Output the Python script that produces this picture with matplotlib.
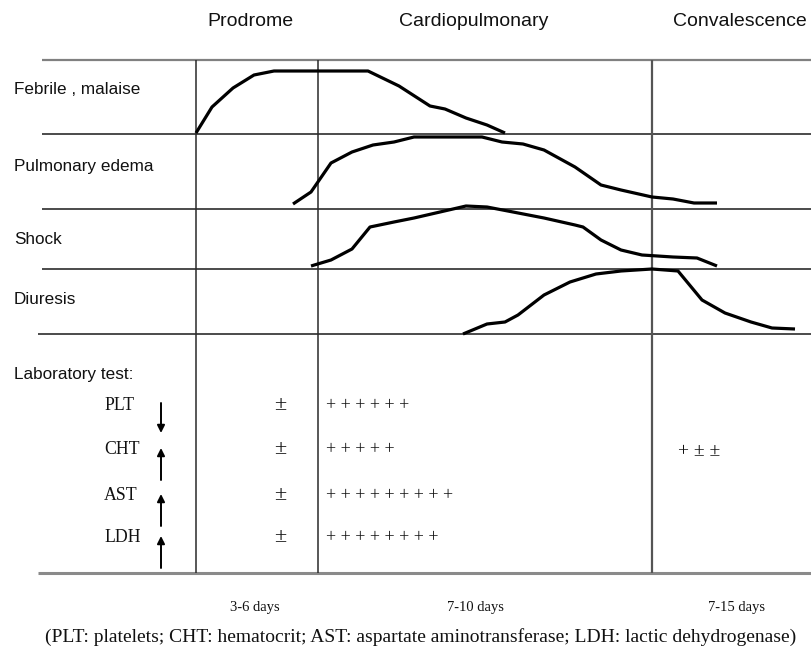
import matplotlib
matplotlib.use("Agg")
import matplotlib.pyplot as plt

# ---- data (diagram coordinates, pixel-like units, y downward) ----
phases = ["Prodrome", "Cardiopulmonary", "Convalescence"]
phase_x = [250, 474, 740]
durations = ["3-6 days", "7-10 days", "7-15 days"]
duration_x = [255, 475, 737]

rows = ["Febrile , malaise", "Pulmonary edema", "Shock", "Diuresis", "Laboratory test:"]
row_y = [90, 166, 240, 299, 375]

febrile_x = [196, 212, 233, 254, 274, 368, 399, 430, 445, 466, 487, 505]
febrile_y = [133, 107, 88, 75, 71, 71, 86, 106, 109, 118, 125, 133]

edema_x = [293, 311, 331, 352, 373, 394, 414, 482, 502, 523, 544, 575, 601, 621, 652, 673, 694, 717]
edema_y = [204, 192, 163, 152, 145, 142, 137, 137, 142, 144, 150, 167, 185, 190, 197, 199, 203, 203]

shock_x = [311, 331, 352, 370, 394, 414, 440, 466, 487, 513, 544, 575, 583, 601, 621, 642, 673, 697, 717]
shock_y = [266, 260, 249, 227, 222, 218, 212, 206, 207, 212, 218, 225, 227, 240, 250, 255, 257, 258, 266]

diuresis_x = [463, 487, 505, 518, 544, 570, 596, 621, 652, 678, 702, 725, 751, 772, 795]
diuresis_y = [334, 324, 322, 315, 295, 282, 274, 271, 269, 271, 300, 313, 322, 328, 329]

lab_tests = ["PLT", "CHT", "AST", "LDH"]
lab_y = [405, 450, 496, 538]
lab_direction = ["down", "up", "up", "up"]
prodrome_marks = ["±", "±", "±", "±"]
cardio_plus_counts = [6, 5, 9, 8]
convalescence_marks = ["", "+ ± ±", "", ""]

footnote = "(PLT: platelets; CHT: hematocrit; AST: aspartate aminotransferase; LDH: lactic dehydrogenase)"

# ---- layout ----
W, H = 812, 660
fig = plt.figure(figsize=(W / 100, H / 100), dpi=100)
ax = fig.add_axes([0, 0, 1, 1])
ax.set_xlim(0, W)
ax.set_ylim(H, 0)
ax.axis("off")

sans = ["Liberation Sans", "DejaVu Sans"]
serif = ["Liberation Serif", "DejaVu Serif"]
tc = "#111111"

# grid lines
ax.hlines(60, 42, W, color="#808080", lw=1.6)
ax.hlines([134, 209, 269], 42, W, color="#1a1a1a", lw=1.1)
ax.hlines(334, 38, W, color="#1a1a1a", lw=1.1)
ax.hlines(573, 38, W, color="#8a8a8a", lw=2.2)
ax.vlines([196, 318], 60, 573, color="#2a2a2a", lw=1.1)
ax.vlines(652, 60, 573, color="#555555", lw=1.6)

# curves
for xs, ys in [(febrile_x, febrile_y), (edema_x, edema_y),
               (shock_x, shock_y), (diuresis_x, diuresis_y)]:
    ax.plot(xs, ys, color="black", lw=2.3, solid_capstyle="butt", solid_joinstyle="round")

# header texts
for name, x in zip(phases, phase_x):
    ax.text(x, 22, name, ha="center", va="center", fontsize=14, family=sans, color=tc)

for name, y in zip(rows, row_y):
    ax.text(14, y, name, ha="left", va="center", fontsize=12.3, family=sans, color=tc)

# lab section
for name, y, d, pm, n, cm in zip(lab_tests, lab_y, lab_direction,
                                 prodrome_marks, cardio_plus_counts, convalescence_marks):
    ax.text(104, y, name, ha="left", va="center", fontsize=12.8, family=serif, color=tc)
    if d == "down":
        tail, tip = (161, y - 2), (161, y + 28)
    else:
        tail, tip = (161, y + 30), (161, y - 2)
    ax.annotate("", xy=tip, xytext=tail,
                arrowprops=dict(arrowstyle="-|>", color="black", lw=1.4,
                                mutation_scale=11, shrinkA=0, shrinkB=0))
    ax.text(280, y, pm, ha="center", va="center", fontsize=16, family=serif, color=tc)
    ax.text(326, y, " ".join(["+"] * n), ha="left", va="center", fontsize=13, family=serif, color=tc)
    if cm:
        ax.text(678, y + 2, cm, ha="left", va="center", fontsize=14, family=serif, color=tc)

for name, x in zip(durations, duration_x):
    ax.text(x, 607, name, ha="center", va="center", fontsize=10.5, family=serif, color=tc)

ax.text(421, 637, footnote, ha="center", va="center", fontsize=14, family=serif, color=tc)

fig.savefig("out.png", dpi=100)
